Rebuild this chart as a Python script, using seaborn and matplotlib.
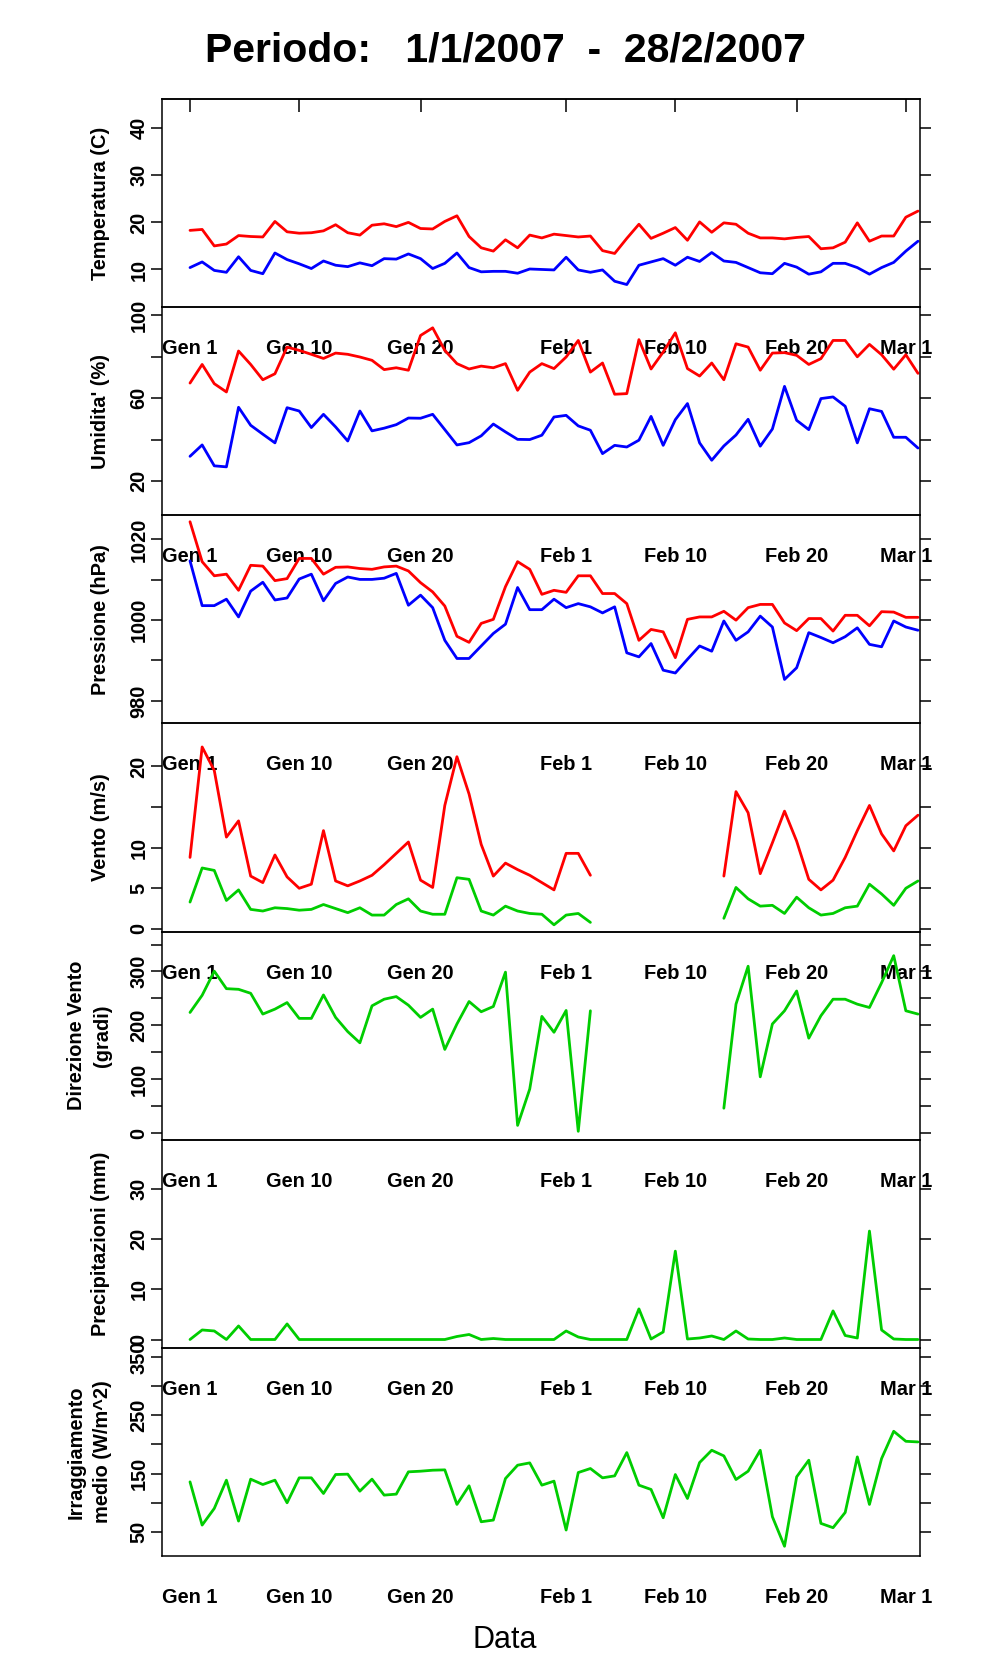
import numpy as np
import pandas as pd
import matplotlib
matplotlib.use("Agg")
import matplotlib.pyplot as plt
import seaborn as sns

nan = np.nan

# ---------------- data (daily values, index 0 = 1 Jan 2007) ----------------
days = list(range(61))

tick_days = [0, 9, 19, 31, 40, 50, 59]
tick_labels = ["Gen 1", "Gen 10", "Gen 20", "Feb 1", "Feb 10", "Feb 20", "Mar 1"]

temp_max = [18.3, 18.5, 15.0, 15.4, 17.2, 17.0, 16.9, 20.2, 18.0, 17.7,
            17.8, 18.2, 19.5, 17.8, 17.3, 19.4, 19.7, 19.1, 20.0, 18.7,
            18.6, 20.2, 21.4, 17.0, 14.6, 13.9, 16.3, 14.6, 17.3, 16.7,
            17.5, 17.2, 16.9, 17.1, 14.0, 13.4, 16.6, 19.6, 16.6, 17.7,
            18.9, 16.2, 20.1, 17.9, 19.9, 19.6, 17.7, 16.7, 16.7, 16.5,
            16.8, 17.0, 14.4, 14.6, 15.8, 19.9, 16.0, 17.1, 17.1, 21.1, 22.4]
temp_min = [10.4, 11.6, 9.8, 9.4, 12.7, 9.8, 9.1, 13.5, 12.1, 11.2,
            10.2, 11.8, 10.9, 10.6, 11.4, 10.8, 12.3, 12.2, 13.3, 12.3,
            10.2, 11.3, 13.5, 10.4, 9.5, 9.6, 9.6, 9.2, 10.1, 10.0,
            9.9, 12.6, 9.9, 9.4, 9.9, 7.5, 6.8, 10.9, 11.6, 12.3,
            10.9, 12.6, 11.7, 13.6, 11.8, 11.5, 10.4, 9.3, 9.1, 11.3,
            10.5, 9.0, 9.5, 11.3, 11.3, 10.4, 9.0, 10.4, 11.5, 13.9, 16.0]

hum_max = [67.3, 76.3, 67.0, 63.0, 82.8, 76.3, 68.9, 71.8, 84.7, 83.1,
           81.2, 79.2, 81.8, 81.2, 79.9, 78.3, 73.8, 74.7, 73.5, 90.3,
           94.0, 83.1, 76.7, 74.1, 75.5, 74.7, 76.7, 63.8, 72.6, 76.7,
           74.3, 79.9, 87.9, 72.6, 77.0, 61.9, 62.2, 88.3, 74.1, 82.3,
           91.6, 74.3, 70.7, 77.0, 68.9, 86.3, 84.7, 73.5, 81.8, 82.0,
           80.7, 76.3, 79.1, 87.9, 87.9, 80.0, 86.0, 81.0, 74.0, 81.0, 72.0]
hum_min = [31.9, 37.4, 27.3, 26.8, 55.6, 46.9, 42.6, 38.4, 55.4, 53.8,
           45.8, 52.2, 46.1, 39.3, 53.8, 44.2, 45.5, 47.2, 50.4, 50.3,
           52.2, 44.8, 37.4, 38.5, 41.8, 47.5, 43.7, 40.1, 40.0, 42.1,
           50.9, 51.7, 46.6, 44.5, 33.2, 37.2, 36.4, 39.7, 51.2, 37.2,
           49.6, 57.4, 38.4, 30.0, 36.9, 42.2, 49.8, 36.8, 45.1, 65.7,
           49.3, 44.8, 59.8, 60.6, 56.1, 38.4, 54.9, 53.6, 41.1, 41.1, 35.9]

pres_max = [1024.4, 1014.5, 1011.0, 1011.4, 1007.4, 1013.6, 1013.4, 1009.8, 1010.3, 1015.3,
            1015.3, 1011.4, 1013.1, 1013.2, 1012.8, 1012.6, 1013.2, 1013.4, 1012.2, 1009.3,
            1007.0, 1003.5, 996.0, 994.5, 999.2, 1000.2, 1008.3, 1014.5, 1012.6, 1006.4,
            1007.4, 1006.9, 1011.0, 1011.0, 1006.6, 1006.6, 1004.1, 995.0, 997.7, 997.1,
            990.7, 1000.2, 1000.8, 1000.8, 1002.2, 1000.0, 1003.1, 1003.9, 1003.9, 999.3,
            997.4, 1000.4, 1000.4, 997.3, 1001.2, 1001.2, 998.6, 1002.1, 1002.0, 1000.7, 1000.7]
pres_min = [1014.7, 1003.6, 1003.6, 1005.2, 1000.8, 1007.2, 1009.4, 1005.0, 1005.5, 1010.2,
            1011.4, 1004.8, 1009.1, 1010.7, 1010.1, 1010.1, 1010.4, 1011.6, 1003.7, 1006.2,
            1003.1, 995.0, 990.5, 990.5, 993.6, 996.7, 999.0, 1008.1, 1002.6, 1002.6,
            1005.2, 1003.1, 1004.1, 1003.3, 1001.8, 1003.3, 991.9, 990.9, 994.2, 987.6,
            986.9, 990.3, 993.6, 992.3, 999.8, 995.0, 997.1, 1001.0, 998.3, 985.3,
            988.2, 996.9, 995.7, 994.4, 995.9, 998.1, 994.0, 993.4, 999.8, 998.3, 997.5]

wind_max = [8.8, 22.4, 19.5, 11.3, 13.3, 6.5, 5.7, 9.1, 6.4, 5.0,
            5.5, 12.1, 5.9, 5.3, 5.9, 6.6, 7.9, 9.3, 10.7, 6.0,
            5.1, 15.2, 21.2, 16.6, 10.4, 6.5, 8.1, 7.3, 6.6, 5.7,
            4.8, 9.3, 9.3, 6.6, nan, nan, nan, nan, nan, nan,
            nan, nan, nan, nan, 6.5, 16.9, 14.3, 6.8, 10.6, 14.5,
            10.8, 6.1, 4.8, 6.0, 8.8, 12.1, 15.2, 11.7, 9.6, 12.7, 14.0]
wind_avg = [3.3, 7.5, 7.2, 3.5, 4.8, 2.4, 2.2, 2.6, 2.5, 2.3,
            2.4, 3.0, 2.5, 2.0, 2.6, 1.7, 1.7, 3.0, 3.7, 2.2,
            1.8, 1.8, 6.3, 6.1, 2.2, 1.7, 2.8, 2.2, 1.9, 1.8,
            0.5, 1.7, 1.9, 0.8, nan, nan, nan, nan, nan, nan,
            nan, nan, nan, nan, 1.3, 5.1, 3.7, 2.8, 2.9, 1.9,
            3.9, 2.6, 1.7, 1.9, 2.6, 2.8, 5.5, 4.3, 2.9, 5.0, 5.9]

wind_dir = [223.9, 255.8, 300.6, 268.1, 266.9, 259.5, 220.9, 230.1, 242.3, 212.9,
            212.9, 256.4, 214.7, 188.3, 167.5, 236.2, 248.5, 253.4, 237.4, 214.7,
            230.1, 155.2, 202.5, 244.2, 225.2, 235.0, 298.8, 14.1, 81.6, 216.6,
            187.1, 227.6, 3.1, 227.0, nan, nan, nan, nan, nan, nan,
            nan, nan, nan, nan, 46.0, 239.3, 309.8, 104.3, 202.5, 227.0,
            263.8, 176.1, 217.8, 248.5, 248.5, 239.3, 233.1, 279.1, 329.4, 227.0, 220.9]

precip = [0.0, 1.9, 1.7, 0.0, 2.7, 0.0, 0.0, 0.0, 3.1, 0.0,
          0.0, 0.0, 0.0, 0.0, 0.0, 0.0, 0.0, 0.0, 0.0, 0.0,
          0.0, 0.0, 0.6, 1.0, 0.0, 0.2, 0.0, 0.0, 0.0, 0.0,
          0.0, 1.7, 0.5, 0.0, 0.0, 0.0, 0.0, 6.1, 0.1, 1.5,
          17.6, 0.1, 0.3, 0.7, 0.0, 1.7, 0.1, 0.0, 0.0, 0.3,
          0.0, 0.0, 0.0, 5.7, 0.8, 0.3, 21.6, 1.9, 0.1, 0.0, 0.0]

irrad = [135.7, 61.4, 90.0, 138.6, 68.3, 140.3, 131.1, 138.6, 99.7, 142.6,
         142.6, 115.7, 148.3, 148.9, 119.7, 140.3, 112.9, 114.6, 152.9, 154.0,
         155.7, 156.3, 96.9, 128.9, 67.1, 70.0, 141.4, 164.3, 168.3, 130.0,
         136.9, 52.9, 151.7, 158.6, 142.6, 146.0, 186.0, 130.0, 122.6, 74.0,
         148.3, 107.1, 168.9, 190.0, 180.3, 139.7, 154.0, 190.0, 75.7, 25.0,
         144.3, 172.9, 64.3, 56.9, 83.1, 178.6, 96.9, 175.7, 222.6, 205.4, 204.3]

# ---------------- panel specification ----------------
RED, BLUE, GREEN = "#FF0000", "#0000FF", "#00CD00"
panels = [
    dict(label="Temperatura (C)", series=[(temp_max, RED), (temp_min, BLUE)],
         ylim=(2.0, 46.2), yticks=[10, 20, 30, 40], ylabels=["10", "20", "30", "40"]),
    dict(label="Umidita' (%)", series=[(hum_max, RED), (hum_min, BLUE)],
         ylim=(3.4, 104.0), yticks=[20, 40, 60, 80, 100], ylabels=["20", "", "60", "", "100"]),
    dict(label="Pressione (hPa)", series=[(pres_max, RED), (pres_min, BLUE)],
         ylim=(974.4, 1026.0), yticks=[980, 990, 1000, 1010, 1020],
         ylabels=["980", "", "1000", "", "1020"]),
    dict(label="Vento (m/s)", series=[(wind_max, RED), (wind_avg, GREEN)],
         ylim=(-0.33, 25.3), yticks=[0, 5, 10, 15, 20], ylabels=["0", "5", "10", "", "20"]),
    dict(label="Direzione Vento\n(gradi)", series=[(wind_dir, GREEN)],
         ylim=(-12.5, 374.2), yticks=[0, 50, 100, 150, 200, 250, 300, 350],
         ylabels=["0", "", "100", "", "200", "", "300", ""]),
    dict(label="Precipitazioni (mm)", series=[(precip, GREEN)],
         ylim=(-1.66, 39.8), yticks=[0, 10, 20, 30], ylabels=["0", "10", "20", "30"]),
    dict(label="Irraggiamento\nmedio (W/m^2)", series=[(irrad, GREEN)],
         ylim=(8.3, 366.0), yticks=[50, 100, 150, 200, 250, 300, 350],
         ylabels=["50", "", "150", "", "250", "", "350"]),
]

# ---------------- figure ----------------
sns.set_style("white")
plt.rcParams["font.family"] = ["Liberation Sans", "DejaVu Sans"]
plt.rcParams["text.color"] = "black"
plt.rcParams["axes.labelcolor"] = "black"
plt.rcParams["xtick.color"] = "black"
plt.rcParams["ytick.color"] = "black"
plt.rcParams["axes.edgecolor"] = "black"

W, H = 996, 1680
fig = plt.figure(figsize=(W / 100, H / 100), dpi=100)
fig.patch.set_facecolor("white")

left_px, right_px = 161.5, 919.8
top_px, panel_h = 99.0, 208.14
FS = 14.4

for k, p in enumerate(panels):
    t = top_px + k * panel_h
    ax = fig.add_axes([left_px / W, 1 - (t + panel_h) / H,
                       (right_px - left_px) / W, panel_h / H])
    ax.set_facecolor("none")
    for y, c in p["series"]:
        df = pd.DataFrame({"x": days, "y": y})
        df["seg"] = df["y"].isna().cumsum()
        df = df.dropna()
        sns.lineplot(data=df, x="x", y="y", units="seg", estimator=None,
                     sort=False, color=c, lw=2.0, ax=ax)
    ax.set_xlabel("")
    ax.set_ylabel("")
    ax.set_xlim(-2.35, 60.15)
    ax.set_ylim(*p["ylim"])
    for s in ax.spines.values():
        s.set_linewidth(1.1)
        s.set_color("black")

    # x axis
    ax.set_xticks(tick_days)
    ax.set_xticklabels(tick_labels, fontsize=FS, fontweight="bold", color="black")
    if k < len(panels) - 1:
        ax.tick_params(axis="x", direction="inout", length=18, width=1.1, pad=14,
                       colors="black")
    else:
        ax.tick_params(axis="x", direction="out", length=9, width=1.1, pad=14,
                       colors="black")
    if k == 0:
        sec = ax.secondary_xaxis("top")
        sec.set_xticks(tick_days)
        sec.set_xticklabels([])
        sec.tick_params(direction="in", length=9, width=1.1, colors="black")
        sec.spines["top"].set_linewidth(1.1)
        sec.spines["top"].set_color("black")

    # y axis
    ax.set_yticks(p["yticks"])
    ax.set_yticklabels(p["ylabels"], fontsize=FS, fontweight="bold",
                       rotation=90, va="center", color="black")
    ax.tick_params(axis="y", direction="out", length=7.7, width=1.1, pad=1.7,
                   left=True, right=True, labelright=False, colors="black")

    # y label
    cy = 1 - (t + panel_h / 2) / H
    if "\n" in p["label"]:
        fig.text(89.5 / W, cy, p["label"], rotation=90, ha="center", va="center",
                 fontsize=FS, fontweight="bold", linespacing=1.5,
                 multialignment="center", color="black")
    else:
        fig.text(100 / W, cy, p["label"], rotation=90, ha="center", va="center",
                 fontsize=FS, fontweight="bold", color="black")

fig.text(505 / W, 1 - 50 / H, "Periodo:   1/1/2007  -  28/2/2007",
         ha="center", va="center", fontsize=29.5, fontweight="bold", color="black")
fig.text(505 / W, 1 - 1640 / H, "Data", ha="center", va="center", fontsize=22,
         color="black")

fig.savefig("out.png", dpi=100, facecolor="white")
